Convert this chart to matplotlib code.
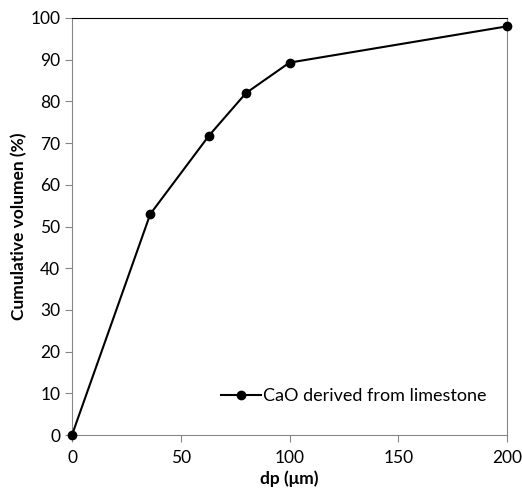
import matplotlib
matplotlib.use("Agg")
import matplotlib.pyplot as plt

plt.rcParams["font.family"] = ["Lato", "DejaVu Sans"]

dp = [0, 36, 63, 80, 100, 200]
cum_vol = [0, 53, 71.8, 82, 89.3, 98]

fig = plt.figure(figsize=(5.22, 4.93), dpi=100)
ax = fig.add_axes([72 / 522, 58 / 493, 435 / 522, 417 / 493])

ax.plot(dp, cum_vol, "k-", marker="o", markersize=6, linewidth=1.5,
        label="CaO derived from limestone", clip_on=False, zorder=5)

ax.set_xlim(0, 200)
ax.set_ylim(0, 100)
ax.set_xticks([0, 50, 100, 150, 200])
ax.set_yticks(range(0, 101, 10))

for s in ["left", "bottom", "right"]:
    ax.spines[s].set_color("#868686")
ax.spines["top"].set_color("black")
ax.tick_params(direction="out", length=5, color="#868686", labelsize=12.5)
ax.tick_params(axis="x", pad=6)

ax.set_xlabel("dp (\u03bcm)", fontsize=12.5, fontweight="bold", labelpad=3)
ax.set_ylabel("Cumulative volumen (%)", fontsize=12.5, fontweight="bold", labelpad=2)

ax.legend(loc="lower right", bbox_to_anchor=(0.99, 0.035), frameon=False,
          fontsize=13, handlelength=2.2, handletextpad=0.1)

fig.savefig("out.png", dpi=100)
